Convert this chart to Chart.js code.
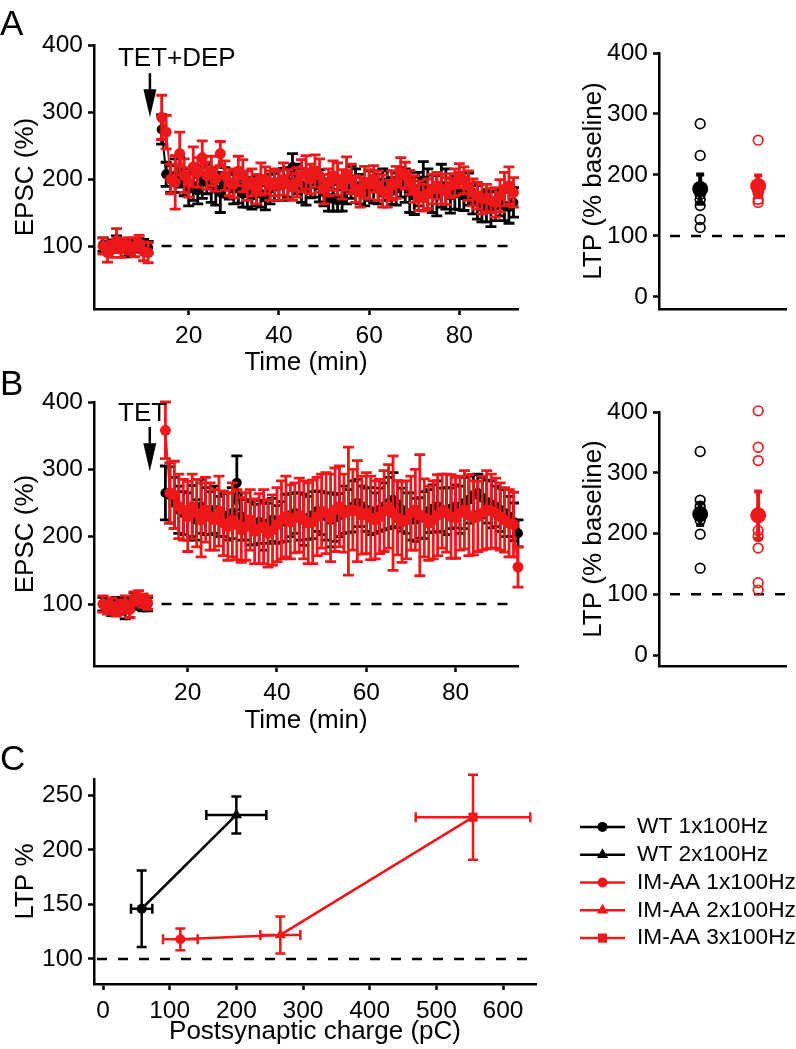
<!DOCTYPE html>
<html>
<head>
<meta charset="utf-8">
<script src="https://cdn.jsdelivr.net/npm/chart.js@4.4.1/dist/chart.umd.min.js"></script>
<style>
  body { margin: 0; background: #fff; }
  #fig { position: relative; width: 796px; height: 1049px; overflow: hidden; font-family: 'Liberation Sans', Arial, sans-serif; }
  #fig canvas { position: absolute; }
  .panel { position: absolute; left: 0; font-size: 35px; line-height: 1; color: #000; }
</style>
</head>
<body>
<div id="fig">
  <canvas id="a1" width="530" height="380" style="left:0;top:0"></canvas>
  <canvas id="a2" width="236" height="372" style="left:560px;top:0"></canvas>
  <canvas id="b1" width="530" height="378" style="left:0;top:360px"></canvas>
  <canvas id="b2" width="236" height="372" style="left:560px;top:360px"></canvas>
  <canvas id="c1" width="796" height="309" style="left:0;top:740px"></canvas>
  <div class="panel" style="top:5px">A</div>
  <div class="panel" style="top:365px">B</div>
  <div class="panel" style="top:740px">C</div>
</div>
<script>
const RED = 'rgb(236,24,26)'
const BLACK = '#000'

// time course, minutes
const minutesBaseline = [1, 2, 3, 4, 5, 6, 7, 8, 9, 10, 11]
const minutesPostA = [14, 15, 16, 17, 18, 19, 20, 21, 22, 23, 24, 25, 26, 27, 28, 29, 30, 31, 32, 33,
  34, 35, 36, 37, 38, 39, 40, 41, 42, 43, 44, 45, 46, 47, 48, 49, 50, 51, 52, 53,
  54, 55, 56, 57, 58, 59, 60, 61, 62, 63, 64, 65, 66, 67, 68, 69, 70, 71, 72, 73,
  74, 75, 76, 77, 78, 79, 80, 81, 82, 83, 84, 85, 86, 87, 88, 89, 90, 91, 92]
const minutesPostB = [15, 16, 17, 18, 19, 20, 21, 22, 23, 24, 25, 26, 27, 28, 29, 30, 31, 32, 33, 34,
  35, 36, 37, 38, 39, 40, 41, 42, 43, 44, 45, 46, 47, 48, 49, 50, 51, 52, 53, 54,
  55, 56, 57, 58, 59, 60, 61, 62, 63, 64, 65, 66, 67, 68, 69, 70, 71, 72, 73, 74,
  75, 76, 77, 78, 79, 80, 81, 82, 83, 84, 85, 86, 87, 88, 89, 90, 91, 92, 93, 94]

// panel A (TET+DEP), EPSC %
const wtBaseA = [102, 98, 100, 105, 100, 96, 98, 100, 103, 100, 98]
const wtBaseSemA = [10, 8, 9, 10, 8, 12, 10, 9, 8, 10, 9]
const imBaseA = [100, 90, 95, 108, 95, 102, 100, 98, 104, 92, 90]
const imBaseSemA = [12, 14, 12, 18, 12, 10, 12, 14, 12, 14, 15]
const wtPostA = [274, 207, 200, 205, 210, 195, 185, 190, 183, 195,
  200, 190, 185, 180, 195, 190, 185, 188, 178, 180,
  175, 182, 178, 172, 185, 188, 190, 192, 195, 218,
  200, 190, 185, 192, 195, 190, 180, 170, 172, 168,
  170, 185, 195, 190, 185, 180, 190, 188, 185, 195,
  190, 182, 185, 195, 190, 180, 175, 185, 198, 185,
  178, 175, 190, 185, 175, 180, 178, 175, 185, 170,
  165, 158, 160, 155, 160, 165, 160, 158, 165]
const wtPostSemA = [22, 18, 20, 25, 22, 20, 25, 22, 20, 24,
  22, 25, 24, 30, 22, 20, 22, 24, 20, 22,
  20, 22, 20, 18, 22, 20, 22, 24, 22, 20,
  22, 25, 24, 20, 22, 24, 20, 18, 20, 16,
  18, 22, 24, 25, 22, 20, 22, 24, 22, 20,
  22, 20, 24, 22, 25, 30, 28, 25, 28, 30,
  28, 30, 32, 30, 26, 25, 24, 22, 24, 22,
  25, 22, 24, 26, 22, 20, 22, 24, 22]
const imPostA = [292, 270, 200, 195, 238, 205, 195, 218, 210, 232,
  205, 212, 200, 238, 205, 195, 192, 212, 205, 190,
  195, 185, 200, 198, 190, 195, 190, 200, 192, 188,
  195, 205, 210, 200, 212, 205, 185, 195, 205, 200,
  192, 208, 200, 185, 180, 195, 192, 200, 190, 182,
  178, 190, 195, 210, 205, 195, 185, 175, 172, 178,
  185, 190, 185, 182, 190, 195, 205, 198, 190, 180,
  175, 170, 172, 168, 165, 175, 185, 190, 180]
const imPostSemA = [33, 25, 22, 40, 32, 25, 22, 30, 22, 25,
  20, 22, 18, 18, 22, 20, 20, 22, 24, 22,
  20, 22, 24, 20, 22, 20, 22, 24, 22, 20,
  22, 24, 25, 22, 24, 25, 22, 20, 22, 24,
  22, 25, 22, 20, 22, 24, 22, 20, 22, 24,
  20, 22, 24, 22, 20, 18, 20, 22, 20, 22,
  22, 20, 22, 20, 18, 20, 18, 20, 22, 20,
  20, 22, 20, 18, 22, 24, 25, 28, 22]

// panel B (TET), EPSC %
const wtBaseB = [100, 98, 95, 100, 97, 92, 95, 105, 102, 100, 100]
const wtBaseSemB = [10, 10, 12, 10, 12, 14, 15, 12, 10, 10, 10]
const imBaseB = [100, 95, 97, 92, 96, 100, 92, 108, 110, 105, 102]
const imBaseSemB = [12, 10, 12, 10, 10, 12, 12, 10, 10, 10, 10]
const wtPostB = [265, 262, 250, 240, 235, 230, 238, 225, 245, 238,
  235, 240, 230, 232, 230, 235, 280, 230, 225, 220,
  218, 222, 215, 220, 225, 218, 222, 228, 232, 235,
  230, 225, 228, 232, 238, 235, 230, 225, 228, 232,
  240, 238, 245, 250, 245, 240, 238, 235, 240, 245,
  250, 255, 248, 240, 235, 230, 225, 228, 232, 238,
  242, 245, 240, 238, 242, 245, 240, 250, 255, 262,
  265, 258, 252, 248, 245, 240, 235, 230, 222, 205]
const wtPostSemB = [40, 42, 38, 35, 32, 35, 38, 30, 40, 35,
  32, 35, 30, 32, 35, 38, 40, 35, 30, 32,
  30, 32, 35, 30, 32, 28, 30, 35, 32, 30,
  35, 38, 32, 35, 30, 32, 35, 40, 35, 32,
  35, 32, 38, 35, 30, 32, 35, 30, 32, 35,
  38, 40, 35, 32, 30, 35, 32, 30, 35, 32,
  35, 38, 32, 35, 30, 32, 35, 38, 35, 30,
  28, 30, 32, 35, 30, 32, 35, 30, 28, 20]
const imPostB = [358, 265, 262, 245, 240, 230, 245, 235, 225, 240,
  230, 225, 238, 220, 215, 225, 218, 210, 215, 225,
  208, 212, 215, 205, 210, 218, 225, 230, 222, 228,
  232, 225, 220, 222, 230, 238, 235, 228, 240, 245,
  235, 238, 240, 238, 232, 235, 228, 225, 230, 238,
  245, 235, 228, 222, 225, 235, 240, 232, 228, 220,
  225, 232, 238, 235, 230, 228, 235, 240, 232, 228,
  230, 235, 240, 238, 235, 230, 225, 220, 218, 155]
const imPostSemB = [42, 45, 50, 48, 45, 52, 48, 50, 55, 48,
  50, 45, 52, 48, 50, 55, 52, 48, 50, 45,
  48, 52, 55, 50, 52, 55, 58, 60, 55, 52,
  55, 58, 60, 62, 58, 55, 60, 65, 62, 60,
  58, 95, 60, 75, 58, 60, 62, 58, 55, 60,
  62, 85, 55, 60, 58, 55, 60, 90, 58, 55,
  58, 60, 55, 58, 62, 60, 55, 58, 60, 55,
  52, 55, 58, 55, 52, 50, 48, 50, 48, 30]

// LTP summaries (% baseline), WT then IM-AA
const groupPos = [1, 2]
const wtLtpA = [284, 232, 168, 160, 150, 127, 114]
const imLtpA = [257, 185, 175, 170, 160, 155, 172]
const ltpMeanA = [177, 182]
const ltpSemA = [24, 17]
const wtLtpB = [335, 255, 245, 235, 222, 199, 143]
const imLtpB = [402, 342, 320, 205, 195, 176, 119, 107]
const ltpMeanB = [232, 230]
const ltpSemB = [18, 39]

// panel C: LTP vs postsynaptic charge
const wtNames = ['WT 1x100Hz', 'WT 2x100Hz']
const wtCharge = [58, 200]
const wtChargeSem = [16, 45]
const wtLtp = [146, 232]
const wtLtpSem = [35, 17]
const imNames = ['IM-AA 1x100Hz', 'IM-AA 2x100Hz', 'IM-AA 3x100Hz']
const imCharge = [116, 266, 555]
const imChargeSem = [26, 30, 86]
const imLtp = [118, 122, 230]
const imLtpSem = [10, 17, 39]

Chart.defaults.font.family = "'Liberation Sans', Arial, sans-serif"
Chart.defaults.color = '#000'

const errorBars = {
  id: 'errorBars',
  beforeDatasetDraw(chart, args) {
    const ds = chart.data.datasets[args.index]
    if (!ds.errY && !ds.errX) return
    const xs = args.meta.xScale
    const ys = args.meta.yScale
    const ctx = chart.ctx
    const cap = ds.cap || 5
    ctx.save()
    ctx.strokeStyle = ds.borderColor
    ctx.lineWidth = ds.errWidth || 2
    ds.data.forEach((p, i) => {
      if (p.y == null) return
      const px = xs.getPixelForValue(p.x)
      const py = ys.getPixelForValue(p.y)
      ctx.beginPath()
      if (ds.errY && ds.errY[i] != null) {
        const t = ys.getPixelForValue(p.y + ds.errY[i])
        const b = ys.getPixelForValue(p.y - ds.errY[i])
        ctx.moveTo(px, t); ctx.lineTo(px, b)
        ctx.moveTo(px - cap, t); ctx.lineTo(px + cap, t)
        ctx.moveTo(px - cap, b); ctx.lineTo(px + cap, b)
      }
      if (ds.errX && ds.errX[i] != null) {
        const l = xs.getPixelForValue(p.x - ds.errX[i])
        const r = xs.getPixelForValue(p.x + ds.errX[i])
        ctx.moveTo(l, py); ctx.lineTo(r, py)
        ctx.moveTo(l, py - cap); ctx.lineTo(l, py + cap)
        ctx.moveTo(r, py - cap); ctx.lineTo(r, py + cap)
      }
      ctx.stroke()
    })
    ctx.restore()
  }
}

const stimArrow = {
  id: 'stimArrow',
  afterDatasetsDraw(chart, args, opts) {
    if (!opts.label) return
    const { ctx, scales: { x, y } } = chart
    const px = x.getPixelForValue(opts.at)
    const top = y.getPixelForValue(opts.from)
    const tip = y.getPixelForValue(opts.to)
    ctx.save()
    ctx.strokeStyle = BLACK
    ctx.fillStyle = BLACK
    ctx.lineWidth = 2.5
    ctx.beginPath()
    ctx.moveTo(px, top)
    ctx.lineTo(px, tip - 26)
    ctx.stroke()
    ctx.beginPath()
    ctx.moveTo(px - 6.5, tip - 28)
    ctx.lineTo(px + 6.5, tip - 28)
    ctx.lineTo(px, tip)
    ctx.closePath()
    ctx.fill()
    ctx.font = "26px 'Liberation Sans', Arial, sans-serif"
    ctx.textBaseline = 'alphabetic'
    ctx.fillText(opts.label, x.getPixelForValue(opts.labelAt), y.getPixelForValue(opts.labelY))
    ctx.restore()
  }
}

const lineLegend = {
  id: 'lineLegend',
  afterDraw(chart, args, opts) {
    if (!opts.display) return
    const { ctx, chartArea } = chart
    const items = []
    chart.data.datasets.forEach(ds => {
      (ds.names || []).forEach((name, i) => {
        items.push({ name, color: ds.borderColor, style: ds.pointStyle[i], r: ds.pointRadius[i] })
      })
    })
    const y0 = (chartArea.top + chartArea.bottom) / 2 - (items.length - 1) * opts.rowHeight / 2 + 1
    ctx.save()
    ctx.font = opts.fontSize + "px 'Liberation Sans', Arial, sans-serif"
    ctx.textBaseline = 'middle'
    items.forEach((it, k) => {
      const y = y0 + k * opts.rowHeight
      ctx.strokeStyle = it.color
      ctx.lineWidth = 2.5
      ctx.beginPath()
      ctx.moveTo(opts.x, y)
      ctx.lineTo(opts.x + opts.lineLength, y)
      ctx.stroke()
      ctx.fillStyle = it.color
      Chart.helpers.drawPoint(ctx, { pointStyle: it.style, radius: it.r, borderWidth: 0, rotation: 0 }, opts.x + opts.lineLength / 2, y)
      ctx.fillStyle = BLACK
      ctx.fillText(it.name, opts.x + opts.lineLength + 12, y)
    })
    ctx.restore()
  }
}

Chart.register(errorBars, stimArrow, lineLegend)

function linAxis(min, max, tickValues, size, title, tickPad) {
  return {
    type: 'linear',
    min,
    max,
    afterBuildTicks: s => { s.ticks = tickValues.map(v => ({ value: v })) },
    afterFit: s => { if (s.isHorizontal()) s.height = size; else s.width = size },
    grid: { drawOnChartArea: false, tickLength: 6, tickWidth: 2.5, tickColor: BLACK, color: BLACK },
    border: { color: BLACK, width: 2.5 },
    ticks: { color: BLACK, padding: tickPad, font: { size: 24.5 }, display: tickValues.length > 0 },
    title
  }
}

function titleOf(text, pad) {
  return { display: true, text, color: BLACK, font: { size: 26 }, padding: pad }
}

function timeDataset(color, radius, base, baseSem, tPost, post, postSem) {
  const data = minutesBaseline.map((t, i) => ({ x: t, y: base[i] }))
  data.push({ x: tPost[0] - 1, y: null })
  tPost.forEach((t, i) => data.push({ x: t, y: post[i] }))
  return {
    data,
    errY: baseSem.concat([null], postSem),
    borderColor: color,
    backgroundColor: color,
    borderWidth: 2,
    pointRadius: radius,
    pointBorderWidth: 0,
    pointBackgroundColor: color,
    errWidth: 2.8,
    cap: 5.5,
    clip: false,
    spanGaps: false
  }
}

function refLine(x0, x1) {
  return {
    data: [{ x: x0, y: 100 }, { x: x1, y: 100 }],
    borderColor: BLACK,
    borderWidth: 2.5,
    borderDash: [10, 11],
    pointRadius: 0,
    clip: false,
    showLine: true
  }
}

function timeChart(id, top, xMax, yMin, xAxisH, datasets, arrow) {
  return new Chart(document.getElementById(id), {
    type: 'line',
    data: { datasets },
    options: {
      responsive: false,
      animation: false,
      devicePixelRatio: 1,
      layout: { padding: { top, right: 12, left: 0, bottom: 0 } },
      plugins: { legend: { display: false }, tooltip: { enabled: false }, stimArrow: arrow },
      scales: {
        x: linAxis(-1, xMax, [20, 40, 60, 80], xAxisH, titleOf('Time (min)', { top: 0, bottom: 2 }), 7),
        y: linAxis(yMin, 400, [100, 200, 300, 400], 94, titleOf('EPSC (%)', { top: 10, bottom: 0 }), 5)
      }
    }
  })
}

function ltpChart(id, top, yMin, xAxisH, wtVals, imVals, means, sems) {
  const indiv = (vals, k, color) => ({
    data: vals.map(v => ({ x: groupPos[k], y: v })),
    borderColor: color,
    pointBorderColor: color,
    pointBackgroundColor: 'rgba(255,255,255,0)',
    pointRadius: 4.8,
    pointBorderWidth: 1.7,
    clip: false
  })
  const mean = (k, color) => ({
    data: [{ x: groupPos[k], y: means[k] }],
    errY: [sems[k]],
    borderColor: color,
    pointBackgroundColor: color,
    pointBorderWidth: 0,
    pointRadius: 8,
    errWidth: 4,
    cap: 4,
    clip: false
  })
  return new Chart(document.getElementById(id), {
    type: 'scatter',
    data: {
      datasets: [mean(1, RED), mean(0, BLACK), indiv(imVals, 1, RED), indiv(wtVals, 0, BLACK), refLine(0.48, 2.48)]
    },
    options: {
      responsive: false,
      animation: false,
      devicePixelRatio: 1,
      layout: { padding: { top, right: 10, left: 0, bottom: 0 } },
      plugins: { legend: { display: false }, tooltip: { enabled: false } },
      scales: {
        x: Object.assign(linAxis(0.29, 2.48, [], xAxisH, { display: false }, 0), { grid: { display: false } }),
        y: linAxis(yMin, 400, [0, 100, 200, 300, 400], 99, titleOf('LTP (% baseline)', { top: 18, bottom: 0 }), 5)
      }
    }
  })
}

timeChart('a1', 45, 93, 6, 71, [
  timeDataset(RED, 5.5, imBaseA, imBaseSemA, minutesPostA, imPostA, imPostSemA),
  timeDataset(BLACK, 5, wtBaseA, wtBaseSemA, minutesPostA, wtPostA, wtPostSemA),
  refLine(0, 93)
], { label: 'TET+DEP', at: 11.4, from: 358, to: 292, labelAt: 4.3, labelY: 369 })

timeChart('b1', 42, 94, 8, 72, [
  timeDataset(RED, 5.5, imBaseB, imBaseSemB, minutesPostB, imPostB, imPostSemB),
  timeDataset(BLACK, 5, wtBaseB, wtBaseSemB, minutesPostB, wtPostB, wtPostSemB),
  refLine(0, 94)
], { label: 'TET', at: 11.5, from: 363, to: 297, labelAt: 4.4, labelY: 372 })

ltpChart('a2', 53, -19.7, 63, wtLtpA, imLtpA, ltpMeanA, ltpSemA)
ltpChart('b2', 52, -18, 66, wtLtpB, imLtpB, ltpMeanB, ltpSemB)

new Chart(document.getElementById('c1'), {
  type: 'line',
  data: {
    datasets: [
      {
        names: wtNames,
        data: wtCharge.map((c, i) => ({ x: c, y: wtLtp[i] })),
        errX: wtChargeSem,
        errY: wtLtpSem,
        borderColor: BLACK,
        backgroundColor: BLACK,
        pointBackgroundColor: BLACK,
        borderWidth: 2.5,
        pointStyle: ['circle', 'triangle'],
        pointRadius: [5, 6.5],
        pointBorderWidth: 0,
        errWidth: 2.5,
        cap: 5,
        clip: false
      },
      {
        names: imNames,
        data: imCharge.map((c, i) => ({ x: c, y: imLtp[i] })),
        errX: imChargeSem,
        errY: imLtpSem,
        borderColor: RED,
        backgroundColor: RED,
        pointBackgroundColor: RED,
        borderWidth: 2.5,
        pointStyle: ['circle', 'triangle', 'rect'],
        pointRadius: [5, 6.5, 6.5],
        pointBorderWidth: 0,
        errWidth: 2.5,
        cap: 5,
        clip: false
      },
      refLine(-9, 636)
    ]
  },
  options: {
    responsive: false,
    animation: false,
    devicePixelRatio: 1,
    layout: { padding: { top: 39, right: 260, left: 0, bottom: 0 } },
    plugins: {
      legend: { display: false },
      tooltip: { enabled: false },
      lineLegend: { display: true, x: 580, lineLength: 45, rowHeight: 27.8, fontSize: 22.7 }
    },
    scales: {
      x: linAxis(-13.5, 649.5, [0, 100, 200, 300, 400, 500, 600], 65, titleOf('Postsynaptic charge (pC)', { top: 0, bottom: 2 }), 7),
      y: linAxis(77, 265, [100, 150, 200, 250], 94, titleOf('LTP %', { top: 10, bottom: 0 }), 5)
    }
  }
})
</script>
</body>
</html>
